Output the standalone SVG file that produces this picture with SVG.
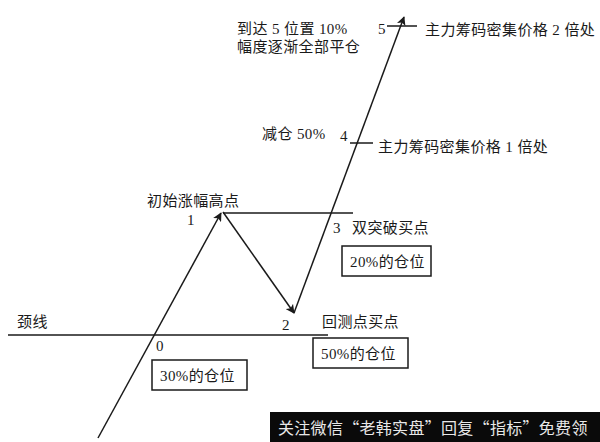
<svg xmlns="http://www.w3.org/2000/svg" width="600" height="442" viewBox="0 0 600 442">
<style>
.t{font-family:"Liberation Serif","Noto Sans CJK SC",serif;font-size:15px;letter-spacing:0.4px;fill:#1a1a1a}
.ln{stroke:#1a1a1a;stroke-width:1.5;fill:none}
.box{fill:#fff;stroke:#1a1a1a;stroke-width:1.5}
</style>
<defs>
<marker id="ah" viewBox="0 0 10 10" refX="9" refY="5" markerWidth="9" markerHeight="9" markerUnits="userSpaceOnUse" orient="auto">
<path d="M0,0 L10,5 L0,10 L2.5,5 z" fill="#1a1a1a"/>
</marker>
</defs>
<rect width="600" height="442" fill="#fff"/>
<g id="connectors">
<line class="ln" x1="8" y1="335" x2="328" y2="335"/>
<line class="ln" x1="223" y1="213" x2="353" y2="213"/>
<line class="ln" x1="350" y1="143" x2="373" y2="143"/>
<line class="ln" x1="387" y1="26" x2="417" y2="26"/>
<line class="ln" x1="98" y1="438" x2="221" y2="213" marker-end="url(#ah)"/>
<line class="ln" x1="223" y1="212" x2="294" y2="313" marker-end="url(#ah)"/>
<line class="ln" x1="294" y1="313" x2="404" y2="17" marker-end="url(#ah)"/>
</g>
<g id="p0"><text class="t" x="156" y="351">0</text></g>
<g id="neck"><text class="t" x="17" y="327">颈线</text></g>
<g id="p1"><text class="t" x="187" y="225">1</text><text class="t" x="147" y="206">初始涨幅高点</text></g>
<g id="p2"><text class="t" x="282" y="330">2</text><text class="t" x="322" y="327">回测点买点</text></g>
<g id="p3"><text class="t" x="333" y="233">3</text><text class="t" x="352" y="233">双突破买点</text></g>
<g id="p4"><text class="t" x="340" y="141">4</text><text class="t" x="262" y="139">减仓 50%</text><text class="t" x="378" y="152">主力筹码密集价格 1 倍处</text></g>
<g id="p5"><text class="t" x="378" y="34">5</text><text class="t" x="237" y="34">到达 5 位置 10%</text><text class="t" x="237" y="52">幅度逐渐全部平仓</text><text class="t" x="425" y="35">主力筹码密集价格 2 倍处</text></g>
<g id="box30"><rect class="box" x="152" y="360" width="95" height="30"/><text class="t" x="160" y="381">30%的仓位</text></g>
<g id="box50"><rect class="box" x="313" y="338" width="95" height="30"/><text class="t" x="321" y="359">50%的仓位</text></g>
<g id="box20"><rect class="box" x="342" y="246" width="89" height="30"/><text class="t" x="350" y="267">20%的仓位</text></g>
<g id="banner"><rect x="270" y="412" width="330" height="30" fill="#0a0a0a"/><text x="278" y="434" font-family="'Noto Sans CJK SC',sans-serif" font-size="16" letter-spacing="0.3" fill="#e8e8e8">关注微信“老韩实盘”回复“指标”免费领</text></g>
</svg>
